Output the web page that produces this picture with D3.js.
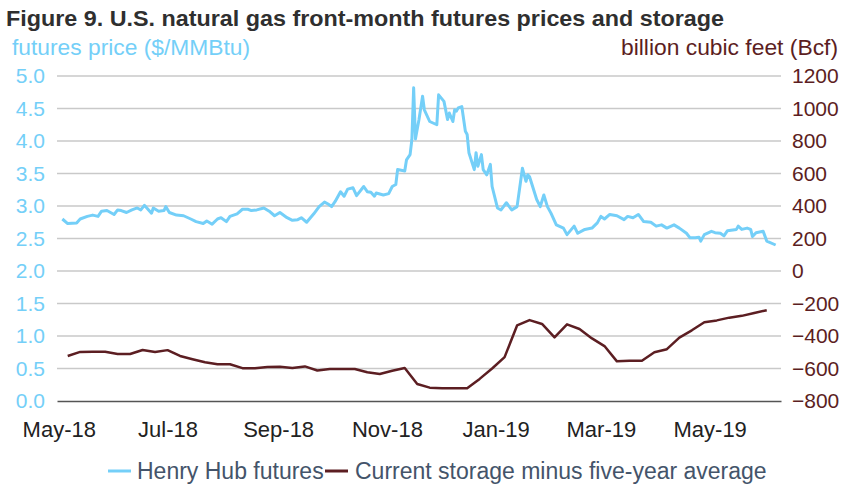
<!DOCTYPE html>
<html>
<head>
<meta charset="utf-8">
<script src="https://d3js.org/d3.v7.min.js"></script>
<style>
  body { margin: 0; background: #fff; }
  text { font-family: "Liberation Sans", Arial, sans-serif; }
</style>
</head>
<body>
<svg id="chart" width="844" height="488"></svg>
<script>
// Henry Hub front-month futures ($/MMBtu)
const priceDates = [
  "2018-05-03", "2018-05-06", "2018-05-11", "2018-05-13", "2018-05-17", "2018-05-20", "2018-05-23", "2018-05-25",
  "2018-05-28", "2018-06-01", "2018-06-03", "2018-06-05", "2018-06-08", "2018-06-11", "2018-06-14", "2018-06-16",
  "2018-06-18", "2018-06-20", "2018-06-22", "2018-06-23", "2018-06-26", "2018-06-29", "2018-06-30", "2018-07-02",
  "2018-07-06", "2018-07-10", "2018-07-14", "2018-07-17", "2018-07-21", "2018-07-23", "2018-07-26", "2018-07-29",
  "2018-07-31", "2018-08-03", "2018-08-05", "2018-08-09", "2018-08-12", "2018-08-15", "2018-08-17", "2018-08-20",
  "2018-08-24", "2018-08-27", "2018-08-30", "2018-09-02", "2018-09-06", "2018-09-09", "2018-09-12", "2018-09-14",
  "2018-09-17", "2018-09-21", "2018-09-24", "2018-09-27", "2018-09-29", "2018-10-01", "2018-10-03", "2018-10-06",
  "2018-10-08", "2018-10-10", "2018-10-13", "2018-10-15", "2018-10-19", "2018-10-21", "2018-10-23", "2018-10-25",
  "2018-10-26", "2018-10-30", "2018-11-02", "2018-11-04", "2018-11-06", "2018-11-07", "2018-11-11", "2018-11-12",
  "2018-11-14", "2018-11-15", "2018-11-16", "2018-11-17", "2018-11-19", "2018-11-21", "2018-11-22", "2018-11-25",
  "2018-11-29", "2018-11-30", "2018-12-03", "2018-12-05", "2018-12-06", "2018-12-08", "2018-12-09", "2018-12-10",
  "2018-12-11", "2018-12-13", "2018-12-15", "2018-12-16", "2018-12-17", "2018-12-20", "2018-12-21", "2018-12-22",
  "2018-12-24", "2018-12-25", "2018-12-27", "2018-12-29", "2018-12-30", "2019-01-02", "2019-01-04", "2019-01-07",
  "2019-01-10", "2019-01-13", "2019-01-16", "2019-01-18", "2019-01-19", "2019-01-20", "2019-01-24", "2019-01-26",
  "2019-01-28", "2019-01-30", "2019-02-01", "2019-02-04", "2019-02-08", "2019-02-10", "2019-02-14", "2019-02-16",
  "2019-02-20", "2019-02-24", "2019-02-27", "2019-03-01", "2019-03-03", "2019-03-06", "2019-03-10", "2019-03-14",
  "2019-03-16", "2019-03-19", "2019-03-22", "2019-03-25", "2019-03-29", "2019-04-01", "2019-04-04", "2019-04-07",
  "2019-04-11", "2019-04-14", "2019-04-18", "2019-04-20", "2019-04-23", "2019-04-25", "2019-04-26", "2019-04-28",
  "2019-05-02", "2019-05-04", "2019-05-07", "2019-05-09", "2019-05-11", "2019-05-16", "2019-05-17", "2019-05-19",
  "2019-05-22", "2019-05-24", "2019-05-25", "2019-05-27", "2019-05-31", "2019-06-02", "2019-06-07"
];
const priceValues = [
  2.80, 2.73, 2.74, 2.80, 2.84, 2.86, 2.84, 2.92,
  2.93, 2.87, 2.94, 2.93, 2.90, 2.94, 2.97, 2.94,
  3.01, 2.95, 2.89, 2.97, 2.92, 2.93, 2.99, 2.90,
  2.86, 2.85, 2.80, 2.76, 2.73, 2.77, 2.72, 2.80,
  2.82, 2.76, 2.84, 2.88, 2.95, 2.95, 2.93, 2.94,
  2.97, 2.92, 2.85, 2.90, 2.82, 2.78, 2.79, 2.82,
  2.75, 2.88, 2.99, 3.06, 3.03, 2.99, 3.07, 3.22,
  3.15, 3.26, 3.28, 3.16, 3.30, 3.22, 3.21, 3.15,
  3.20, 3.17, 3.19, 3.30, 3.33, 3.56, 3.54, 3.71,
  3.79, 4.02, 4.82, 4.03, 4.33, 4.69, 4.48, 4.30,
  4.25, 4.71, 4.61, 4.33, 4.43, 4.30, 4.48, 4.46,
  4.51, 4.53, 4.15, 4.10, 3.82, 3.56, 3.82, 3.61,
  3.79, 3.56, 3.48, 3.64, 3.30, 2.97, 2.94, 3.05,
  2.94, 2.99, 3.58, 3.38, 3.48, 3.45, 3.10, 2.99,
  3.17, 2.99, 2.89, 2.71, 2.66, 2.56, 2.69, 2.58,
  2.64, 2.66, 2.74, 2.84, 2.80, 2.87, 2.85, 2.79,
  2.84, 2.82, 2.87, 2.76, 2.75, 2.69, 2.71, 2.66,
  2.71, 2.66, 2.58, 2.51, 2.51, 2.52, 2.46, 2.56,
  2.61, 2.59, 2.58, 2.54, 2.62, 2.64, 2.69, 2.64,
  2.66, 2.64, 2.53, 2.59, 2.61, 2.46, 2.40
];

// weekly storage minus five-year average (Bcf), first week and values
const storageFirstWeek = "2018-05-06";
const storageValues = [
  -523, -498, -497, -497, -511, -511, -486, -499, -487, -523,
  -543, -562, -574, -574, -598, -599, -591, -589, -597, -587,
  -612, -603, -603, -603, -623, -634, -614, -597, -695, -718,
  -722, -722, -722, -664, -600, -530, -335, -302, -326, -408,
  -328, -357, -415, -462, -556, -552, -552, -500, -481, -410,
  -365, -315, -304, -287, -276, -258, -241
];

const leftTicks = [0, 0.5, 1, 1.5, 2, 2.5, 3, 3.5, 4, 4.5, 5];
const rightTicks = [-800, -600, -400, -200, 0, 200, 400, 600, 800, 1000, 1200];
const xRange = ["2018-04-30", "2019-06-10"];

const legendLabels = ["Henry Hub futures", "Current storage minus five-year average"];

const blue = "#74cff8";
const maroon = "#5c1e22";

const parseDate = d3.timeParse("%Y-%m-%d");

function drawChart() {
  let svg = d3.select("#chart");
  let margin = { top: 76, bottom: 87, left: 57, right: 63 };
  let width = 844 - margin.left - margin.right,
    height = 488 - margin.top - margin.bottom;

  let x = d3.scaleTime()
    .domain(xRange.map(parseDate))
    .range([margin.left, margin.left + width]);
  let yLeft = d3.scaleLinear().domain([0, 5]).range([margin.top + height, margin.top]);
  let yRight = d3.scaleLinear().domain([-800, 1200]).range([margin.top + height, margin.top]);

  // title and axis titles
  svg.append("text")
    .attr("x", 6)
    .attr("y", 26)
    .attr("font-size", 22)
    .attr("font-weight", "bold")
    .attr("fill", "#2f2f2f")
    .attr("textLength", 718)
    .attr("lengthAdjust", "spacingAndGlyphs")
    .text("Figure 9. U.S. natural gas front-month futures prices and storage");

  svg.append("text")
    .attr("x", 12)
    .attr("y", 55)
    .attr("font-size", 22)
    .attr("fill", blue)
    .attr("textLength", 238)
    .attr("lengthAdjust", "spacingAndGlyphs")
    .text("futures price ($/MMBtu)");

  svg.append("text")
    .attr("x", 621)
    .attr("y", 55)
    .attr("font-size", 22)
    .attr("fill", maroon)
    .attr("textLength", 217)
    .attr("lengthAdjust", "spacingAndGlyphs")
    .text("billion cubic feet (Bcf)");

  // gridlines
  svg.append("g")
    .selectAll("line")
    .data(leftTicks.filter((d) => d > 0))
    .enter()
    .append("line")
    .attr("x1", margin.left)
    .attr("x2", margin.left + width)
    .attr("y1", (d) => yLeft(d))
    .attr("y2", (d) => yLeft(d))
    .attr("stroke", "#c9c9c9")
    .attr("stroke-width", 1.5);

  // left axis
  let leftAxis = svg.append("g")
    .attr("transform", "translate(" + (margin.left - 12) + ",0)")
    .call(d3.axisLeft(yLeft).tickValues(leftTicks).tickFormat(d3.format(".1f")).tickSize(0).tickPadding(0));
  leftAxis.select(".domain").remove();
  leftAxis.selectAll("text")
    .attr("font-size", 21)
    .attr("font-family", "Liberation Sans, Arial, sans-serif")
    .attr("fill", blue);

  // right axis
  let rightAxis = svg.append("g")
    .attr("transform", "translate(" + (margin.left + width + 11) + ",0)")
    .call(d3.axisRight(yRight).tickValues(rightTicks).tickFormat(d3.format("d")).tickSize(0).tickPadding(0));
  rightAxis.select(".domain").remove();
  rightAxis.selectAll("text")
    .attr("font-size", 21)
    .attr("font-family", "Liberation Sans, Arial, sans-serif")
    .attr("fill", maroon);

  // bottom axis
  let bottomAxis = svg.append("g")
    .attr("transform", "translate(0," + (margin.top + height) + ")")
    .call(d3.axisBottom(x).ticks(d3.timeMonth.every(2)).tickFormat(d3.timeFormat("%b-%y")).tickSize(0).tickPadding(20));
  bottomAxis.select(".domain")
    .attr("stroke", "#555")
    .attr("stroke-width", 1.5);
  bottomAxis.selectAll("text")
    .attr("font-size", 22)
    .attr("font-family", "Liberation Sans, Arial, sans-serif")
    .attr("fill", "#222");

  // price line
  let priceData = priceDates.map((d, i) => ({ date: parseDate(d), value: priceValues[i] }));
  svg.append("path")
    .datum(priceData)
    .attr("fill", "none")
    .attr("stroke", blue)
    .attr("stroke-width", 3)
    .attr("stroke-linejoin", "round")
    .attr("d", d3.line().x((d) => x(d.date)).y((d) => yLeft(d.value)));

  // storage line
  let firstWeek = parseDate(storageFirstWeek);
  let storageData = storageValues.map((v, i) => ({ date: d3.timeDay.offset(firstWeek, 7 * i), value: v }));
  svg.append("path")
    .datum(storageData)
    .attr("fill", "none")
    .attr("stroke", maroon)
    .attr("stroke-width", 2.5)
    .attr("stroke-linejoin", "round")
    .attr("d", d3.line().x((d) => x(d.date)).y((d) => yRight(d.value)));

  // legend
  let legend = svg.append("g").attr("transform", "translate(0,471)");
  let legendX = [[108, 137], [325, 355]];
  [blue, maroon].forEach((c, i) => {
    legend.append("line")
      .attr("x1", legendX[i][0])
      .attr("x2", legendX[i][0] + 23)
      .attr("stroke", c)
      .attr("stroke-width", 3);
    legend.append("text")
      .attr("x", legendX[i][1])
      .attr("dy", "0.35em")
      .attr("font-size", 23)
      .attr("fill", "#44546a")
      .text(legendLabels[i]);
  });
}

drawChart();
</script>
</body>
</html>
